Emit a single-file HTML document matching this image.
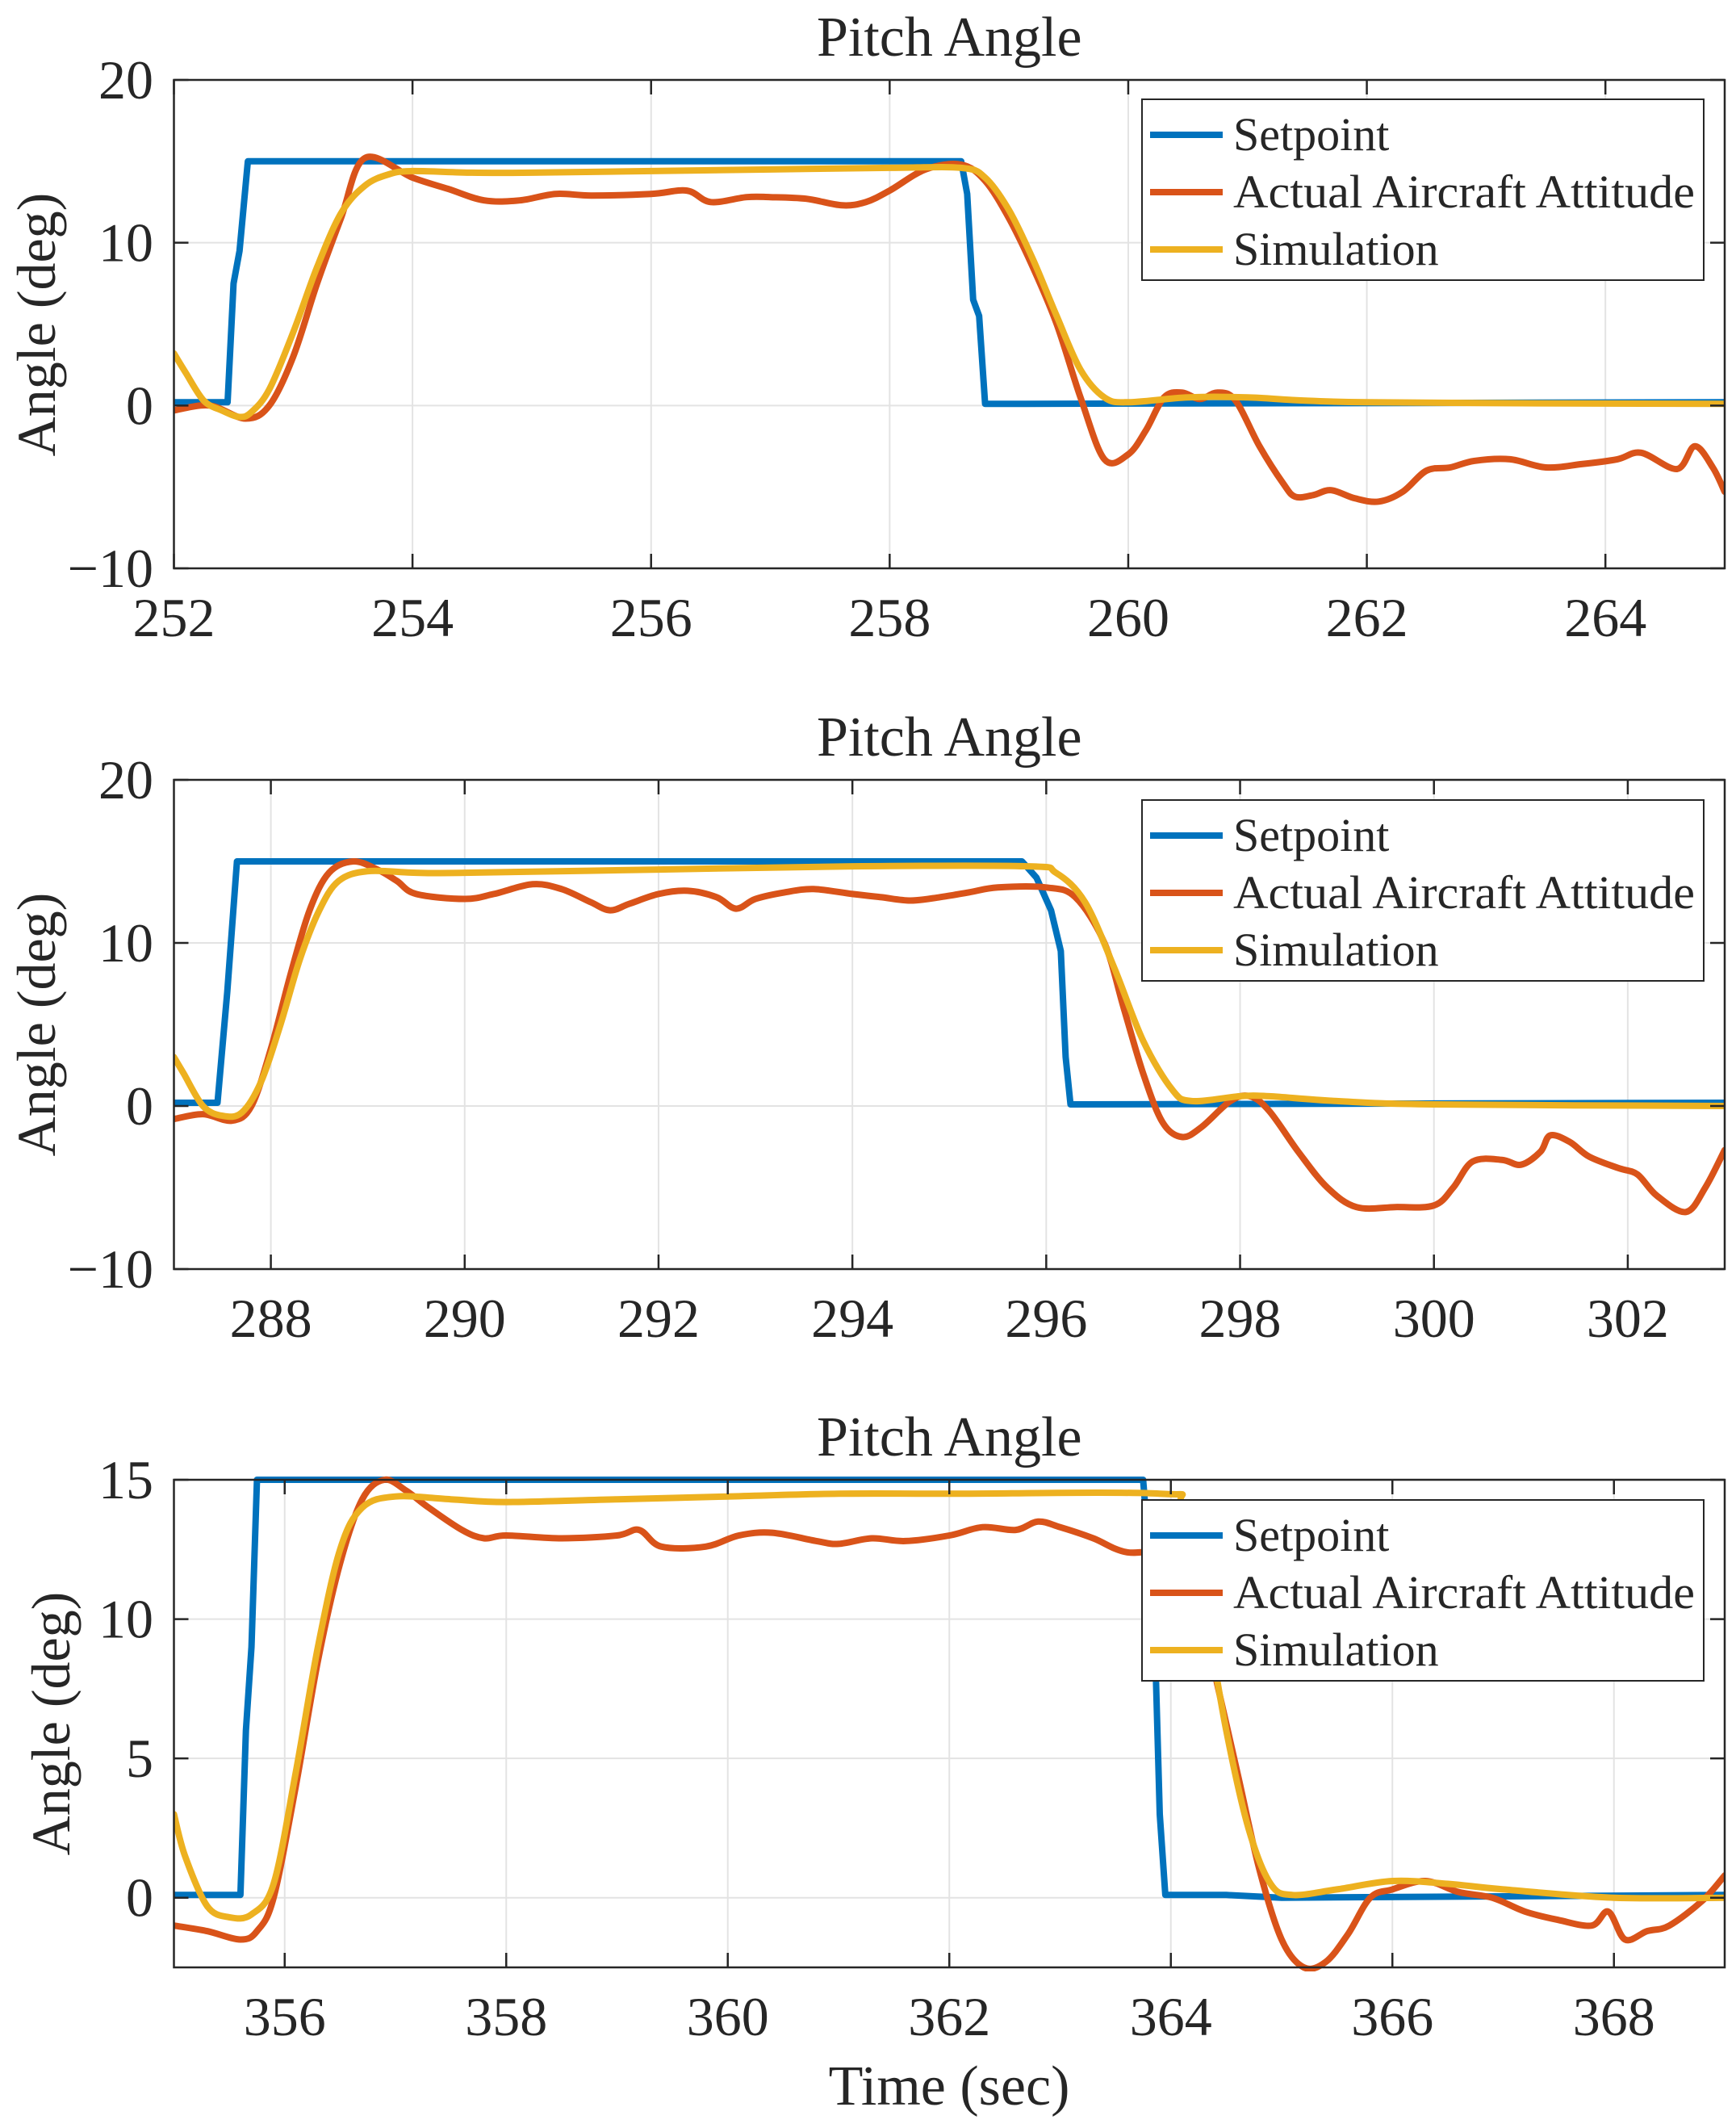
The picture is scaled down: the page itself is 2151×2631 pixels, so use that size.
<!DOCTYPE html>
<html><head><meta charset="utf-8"><style>
html,body{margin:0;padding:0;background:#fff}
svg{display:block}
text{font-family:"Liberation Serif",serif;fill:#262626}
</style></head><body>
<svg id="fig" width="2151" height="2631" viewBox="0 0 2151 2631" xmlns="http://www.w3.org/2000/svg"></svg>
<script>
// ---- Panel 1 data ----
const p1SetT=[252,252.45,252.5,252.55,252.62,258.6,258.65,258.7,258.75,258.8,265];
const p1SetV=[0.2,0.2,7.5,9.5,15,15,13,6.5,5.5,0.1,0.2];
const p1ActT=[252,252.3,252.6,252.8,253.0,253.2,253.4,253.6,254.0,254.3,254.6,254.9,255.2,255.5,256,256.3,256.5,256.8,257,257.3,257.6,257.8,258.0,258.3,258.6,258.8,259.0,259.2,259.4,259.6,259.8,260,260.15,260.3,260.45,260.6,260.75,260.9,261.1,261.3,261.4,261.55,261.7,261.9,262.1,262.3,262.5,262.7,262.9,263.2,263.5,263.8,264.1,264.3,264.6,264.75,264.9,265];
const p1ActV=[-0.3,0,-0.8,0,3,7.5,11.5,15.2,14.0,13.3,12.6,12.6,13.0,12.9,13.0,13.2,12.5,12.8,12.8,12.7,12.3,12.5,13.2,14.5,14.8,13.8,11.5,8.5,5,0.5,-3.3,-3.0,-1.5,0.5,0.8,0.4,0.8,0.3,-2.5,-4.8,-5.6,-5.5,-5.2,-5.7,-5.9,-5.3,-4.0,-3.8,-3.4,-3.3,-3.8,-3.6,-3.3,-2.9,-3.9,-2.5,-3.8,-5.3];
const p1SimT=[252,252.1,252.25,252.4,252.55,252.65,252.8,253.0,253.2,253.4,253.6,253.8,254.0,254.5,255,256,257,258,258.6,258.8,259.0,259.2,259.4,259.6,259.8,260,260.5,261,262,265];
const p1SimV=[3.2,2.0,0.3,-0.3,-0.7,-0.4,1.0,4.5,8.5,11.8,13.5,14.2,14.4,14.3,14.3,14.4,14.5,14.6,14.6,14.0,12,9,5.5,2.2,0.5,0.2,0.5,0.5,0.2,0.1];
const p1XTicks=[252,254,256,258,260,262,264];
const p1YTicks=[-10,0,10,20];
// ---- Panel 2 data ----
const p2SetT=[287,287.45,287.55,287.65,295.75,295.9,296.05,296.15,296.2,296.25,303];
const p2SetV=[0.2,0.2,7,15,15,14,12,9.5,3,0.1,0.2];
const p2ActT=[287,287.3,287.6,287.8,288.0,288.2,288.4,288.6,288.85,289.1,289.3,289.5,290,290.3,290.7,291,291.3,291.5,291.7,292,292.3,292.6,292.8,293,293.3,293.6,294,294.3,294.6,294.9,295.2,295.5,296,296.3,296.6,296.8,297.0,297.2,297.4,297.6,297.9,298.1,298.3,298.6,298.9,299.2,299.6,300,300.2,300.4,300.7,300.9,301.1,301.2,301.4,301.6,301.9,302.1,302.3,302.6,302.8,303];
const p2ActV=[-0.8,-0.5,-0.9,0,3.5,8,12,14.3,15.0,14.5,13.8,13,12.7,13.0,13.6,13.3,12.5,12.0,12.4,13.0,13.2,12.8,12.1,12.7,13.1,13.3,13.0,12.8,12.6,12.8,13.1,13.4,13.4,12.8,10,6,2,-1,-1.9,-1.3,0.3,0.6,-0.3,-2.8,-5.0,-6.2,-6.2,-6.1,-5.0,-3.4,-3.3,-3.6,-2.8,-1.8,-2.2,-3.1,-3.8,-4.2,-5.5,-6.5,-5.0,-2.7];
const p2SimT=[287,287.1,287.3,287.5,287.7,287.9,288.1,288.3,288.5,288.7,289,289.5,290,292,294,295.8,296.1,296.4,296.7,297,297.3,297.5,298,298.3,299,300,303];
const p2SimV=[3.0,2.0,0,-0.6,-0.4,1.5,5,9,12,13.8,14.4,14.3,14.3,14.5,14.7,14.7,14.3,12.5,8.5,4,1,0.3,0.6,0.6,0.3,0.1,0.0];
const p2XTicks=[288,290,292,294,296,298,300,302];
const p2YTicks=[-10,0,10,20];
// ---- Panel 3 data ----
const p3SetT=[355,355.6,355.65,355.7,355.75,363.75,363.85,363.9,363.95,364.5,365,369];
const p3SetV=[0.1,0.1,6,9,15,15,10,3,0.1,0.1,0,0.1];
const p3ActT=[355,355.3,355.6,355.75,355.9,356.1,356.3,356.5,356.7,356.9,357.1,357.3,357.6,357.8,358,358.5,359,359.2,359.4,359.8,360.1,360.4,360.8,361,361.3,361.6,362,362.3,362.6,362.8,363.0,363.3,363.6,364,364.2,364.4,364.6,364.8,365,365.2,365.4,365.6,365.8,366,366.3,366.6,366.9,367.2,367.5,367.8,367.95,368.1,368.3,368.5,368.8,369];
const p3ActV=[-1.0,-1.2,-1.5,-1.2,0,4,8.5,12,14.3,15.0,14.6,14,13.2,12.9,13.0,12.9,13.0,13.2,12.6,12.6,13.0,13.1,12.8,12.7,12.9,12.8,13.0,13.3,13.2,13.5,13.3,12.9,12.4,12.4,11.5,8,4.5,1,-1.5,-2.5,-2.3,-1.3,0,0.3,0.6,0.2,0,-0.5,-0.8,-1.0,-0.5,-1.5,-1.2,-1.0,-0.1,0.8];
const p3SimT=[355,355.1,355.3,355.5,355.7,355.9,356.1,356.3,356.5,356.7,357,357.5,358,359,360,361,362,363.9,364.1,364.3,364.5,364.7,364.9,365.1,365.5,366,366.5,367,368,369];
const p3SimV=[3.0,1.5,-0.3,-0.7,-0.6,0.5,4.5,9,12.5,14,14.4,14.3,14.2,14.3,14.4,14.5,14.5,14.5,14,10.5,6,2.5,0.5,0.1,0.3,0.6,0.5,0.3,0.0,0.0];
const p3XTicks=[356,358,360,362,364,366,368];
const p3YTicks=[0,5,10,15];

const NS="http://www.w3.org/2000/svg";
const svg=document.getElementById('fig');
function mk(tag,attrs,parent){const e=document.createElementNS(NS,tag);for(const k in attrs)e.setAttribute(k,attrs[k]);(parent||svg).appendChild(e);return e;}
const L=215.5,R=2137;
const COLORS=['#0072BD','#D95319','#EDB120'];
const NAMES=['Setpoint','Actual Aircraft Attitude','Simulation'];

function smoothPath(P){
  let d='M'+P[0][0].toFixed(1)+','+P[0][1].toFixed(1);
  for(let i=0;i<P.length-1;i++){
    const p0=P[Math.max(i-1,0)],p1=P[i],p2=P[i+1],p3=P[Math.min(i+2,P.length-1)];
    const c1x=p1[0]+(p2[0]-p0[0])/6,c1y=p1[1]+(p2[1]-p0[1])/6;
    const c2x=p2[0]-(p3[0]-p1[0])/6,c2y=p2[1]-(p3[1]-p1[1])/6;
    d+='C'+c1x.toFixed(1)+','+c1y.toFixed(1)+' '+c2x.toFixed(1)+','+c2y.toFixed(1)+' '+p2[0].toFixed(1)+','+p2[1].toFixed(1);
  }
  return d;
}

function panel(id,top,bottom,xmin,xmax,ymin,ymax,xt,yt,series,legTop,ylabX,ylabY,titleY){
  const g=mk('g',{});
  
  
  const sx=t=>L+(t-xmin)/(xmax-xmin)*(R-L);
  const sy=v=>bottom-(v-ymin)/(ymax-ymin)*(bottom-top);
  xt.forEach(t=>{const l=mk('line',{x1:sx(t),x2:sx(t),y1:top,y2:bottom,stroke:'#e3e3e3','stroke-width':2},g);
    });
  yt.forEach(v=>{const l=mk('line',{x1:L,x2:R,y1:sy(v),y2:sy(v),stroke:'#e3e3e3','stroke-width':2},g);
    });
  const cp=mk('clipPath',{id:'clip'+id},g);mk('rect',{x:L,y:top-5,width:R-L,height:bottom-top+10},cp);
  series.forEach((s,i)=>{
    const P=s[0].map((t,j)=>[sx(t),sy(s[1][j])]);
    const d=i===0?P.map((p,j)=>(j?'L':'M')+p[0].toFixed(1)+','+p[1].toFixed(1)).join(''):smoothPath(P);
    const p=mk('path',{d:d,fill:'none',stroke:COLORS[i],'stroke-width':8,'stroke-linejoin':'round','stroke-linecap':'round','clip-path':'url(#clip'+id+')'},g);
    
    
  });
  const fr=mk('rect',{x:L,y:top,width:R-L,height:bottom-top,fill:'none',stroke:'#262626','stroke-width':2.5},g);
  
  xt.forEach(t=>{mk('line',{x1:sx(t),x2:sx(t),y1:bottom,y2:bottom-18,stroke:'#262626','stroke-width':2.5},g);
    mk('line',{x1:sx(t),x2:sx(t),y1:top,y2:top+18,stroke:'#262626','stroke-width':2.5},g);
    const tx=mk('text',{x:sx(t),y:bottom+84,'font-size':68,'text-anchor':'middle'},g);tx.textContent=t;
    });
  yt.forEach(v=>{mk('line',{x1:L,x2:L+18,y1:sy(v),y2:sy(v),stroke:'#262626','stroke-width':2.5},g);
    mk('line',{x1:R,x2:R-18,y1:sy(v),y2:sy(v),stroke:'#262626','stroke-width':2.5},g);
    const tx=mk('text',{x:190,y:sy(v)+23,'font-size':68,'text-anchor':'end'},g);tx.textContent=(v<0?'\u2212'+(-v):v);
    });
  const ti=mk('text',{x:(L+R)/2,y:titleY,'font-size':70,'text-anchor':'middle'},g);ti.textContent='Pitch Angle';
  
  const yl=mk('text',{x:0,y:0,'font-size':68,'text-anchor':'middle',transform:'translate('+(ylabX)+','+ylabY+') rotate(-90)'},g);yl.textContent='Angle (deg)';
  
  const lg=mk('g',{},g);
  mk('rect',{x:1415,y:legTop,width:696,height:224,fill:'#fff',stroke:'#262626','stroke-width':2},lg);
  NAMES.forEach((n,i)=>{const cy=legTop+44+i*71;
    const ln=mk('line',{x1:1425,x2:1515,y1:cy,y2:cy,stroke:COLORS[i],'stroke-width':8},lg);
    
    const tx=mk('text',{x:1528,y:cy+19,'font-size':58,textLength:572,lengthAdjust:'spacingAndGlyphs'},lg);tx.textContent=n;
    if(i!==1){tx.removeAttribute('textLength');tx.removeAttribute('lengthAdjust');}
    });
}
panel(1,99,704,252,265,-10,20,p1XTicks,p1YTicks,[[p1SetT,p1SetV],[p1ActT,p1ActV],[p1SimT,p1SimV]],123,68,402,69);
panel(2,966,1572,287,303,-10,20,p2XTicks,p2YTicks,[[p2SetT,p2SetV],[p2ActT,p2ActV],[p2SimT,p2SimV]],991,68,1269,936);
panel(3,1833,2437,355,369,-2.5,15,p3XTicks,p3YTicks,[[p3SetT,p3SetV],[p3ActT,p3ActV],[p3SimT,p3SimV]],1858,86,2135,1803);
const xl=mk('text',{x:1176,y:2607,'font-size':70,'text-anchor':'middle'});xl.textContent='Time (sec)';


</script>
</body></html>
